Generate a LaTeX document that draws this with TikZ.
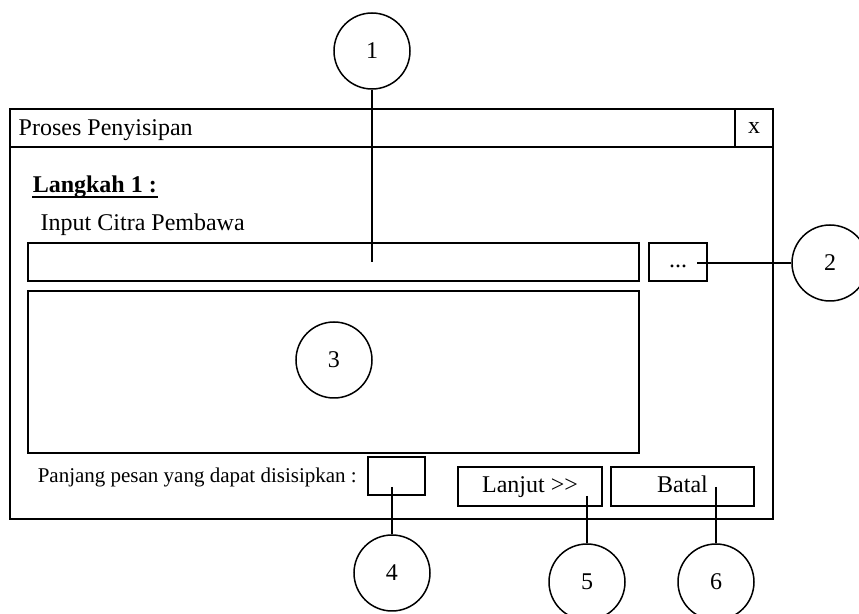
\documentclass[tikz,border=0pt]{standalone}
\usepackage{fontspec}
\setmainfont{Liberation Serif}
\begin{document}
\begin{tikzpicture}[x=0.5pt,y=-0.5pt,line width=0.75pt,
  box/.style={draw,rectangle,inner sep=0pt,line width=0.75pt,text height=8pt,text depth=2pt,font=\fontsize{12}{14}\selectfont},
  callout/.style={draw,circle,minimum size=38pt,inner sep=0pt,font=\fontsize{12}{14}\selectfont},
  label/.style={anchor=base west,inner sep=0pt,font=\fontsize{12}{14}\selectfont},
  link/.style={draw,line width=0.75pt}]
\useasboundingbox (0,0) rectangle (859,614);

% window frame and title bar
\node[box,minimum width=381.5pt,minimum height=205pt] (win) at (391.5,314) {};
\node[box,minimum width=362.5pt,minimum height=19pt] (titlebar) at (372.5,128) {};
\node[box,minimum width=19pt,minimum height=19pt] (close) at (754,128) {x};
\node[label] (title) at (18,136) {Proses Penyisipan};

% step heading, underlined by hand
\node[label] (step) at (32,193) {\textbf{Langkah 1 :}};
\draw[line width=1pt] ([yshift=-2pt]step.base west) -- ([yshift=-2pt]step.base east);
\node[label] (inlabel) at (40,231) {Input Citra Pembawa};

% file input and preview
\node[box,minimum width=305.5pt,minimum height=19pt] (field) at (333.5,262) {};
\node[box,minimum width=29pt,minimum height=19pt] (browse) at (678,262) {...};
\node[box,minimum width=305.5pt,minimum height=81pt] (preview) at (333.5,372) {};

% capacity and buttons
\node[label,font=\fontsize{10.5}{12}\selectfont] (caplabel) at (37,483) {Panjang pesan yang dapat disisipkan :};
\node[box,minimum width=28.5pt,minimum height=19pt] (capbox) at (396.5,476) {};
\node[box,minimum width=72pt,minimum height=19.5pt] (next) at (530,486.5) {Lanjut >{}>};
\node[box,minimum width=71.5pt,minimum height=19.5pt] (cancel) at (682.5,486.5) {Batal};

% numbered callouts
\node[callout] (c1) at (372,51) {1};
\node[callout] (c2) at (830,263) {2};
\node[callout] (c3) at (334,360) {3};
\node[callout] (c4) at (392,573) {4};
\node[callout] (c5) at (587,582) {5};
\node[callout] (c6) at (716,582) {6};

\coordinate (p1) at (372,262);
\coordinate (p2) at (697,263);
\coordinate (p4) at (392,487);
\coordinate (p5) at (587,496);
\coordinate (p6) at (716,487);

\draw[link] (c1) -- (p1);
\draw[link] (p2) -- (c2);
\draw[link] (p4) -- (c4);
\draw[link] (p5) -- (c5);
\draw[link] (p6) -- (c6);
\end{tikzpicture}
\end{document}
